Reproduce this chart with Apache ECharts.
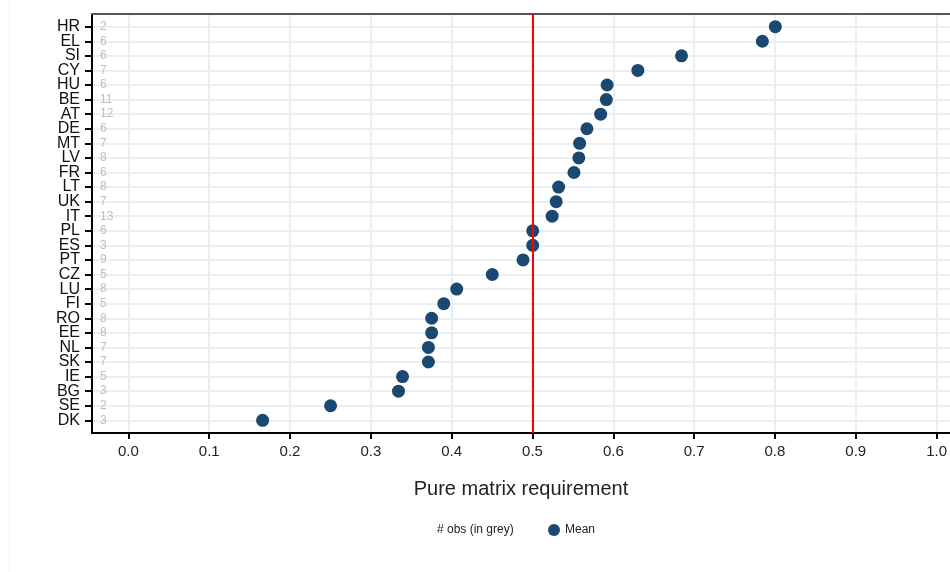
<!DOCTYPE html>
<html>
<head>
<meta charset="utf-8">
<script src="https://cdn.jsdelivr.net/npm/echarts@6/dist/echarts.min.js"></script>
<style>
	html, body { margin: 0; padding: 0; background: #fff; }
	#chart { width: 950px; height: 572px; }
</style>
</head>
<body>
<div id="chart"></div>
<script>
var countries = ['HR', 'EL', 'SI', 'CY', 'HU', 'BE', 'AT', 'DE', 'MT', 'LV', 'FR', 'LT', 'UK', 'IT',
	'PL', 'ES', 'PT', 'CZ', 'LU', 'FI', 'RO', 'EE', 'NL', 'SK', 'IE', 'BG', 'SE', 'DK'];
var obs = [2, 6, 6, 7, 6, 11, 12, 6, 7, 8, 6, 8, 7, 13, 6, 3, 9, 5, 8, 5, 8, 8, 7, 7, 5, 3, 2, 3];
var means = [0.800, 0.784, 0.684, 0.630, 0.592, 0.591, 0.584, 0.567, 0.558, 0.557, 0.551, 0.532, 0.529, 0.524,
	0.500, 0.500, 0.488, 0.450, 0.406, 0.390, 0.375, 0.375, 0.371, 0.371, 0.339, 0.334, 0.250, 0.166];
var xTicks = [0, 0.1, 0.2, 0.3, 0.4, 0.5, 0.6, 0.7, 0.8, 0.9, 1.0];
var threshold = 0.5;

var font = 'Liberation Sans, Arial, sans-serif';
var dotColor = '#1b4871';
var gridColor = '#e9eff2';
var xMin = -0.045, xMax = 1.016;

var myChart = echarts.init(document.getElementById('chart'));

// grid 0: frame, grid 1: rows + dots, grid 2: x scale 0..1 (ticks, labels, gridlines, threshold)
var option = {
	animation : false,
	textStyle : { fontFamily : font },
	grid : [
		{ left : 92, top : 14, right : 0, height : 419 },
		{ left : 92, top : 26.7, right : 0, height : 393.6 },
		{ left : 128.4, top : 14, width : 808.7, height : 419 }
	],
	graphic : [
		{
			type : 'line',
			shape : { x1 : 9.5, y1 : 0, x2 : 9.5, y2 : 572 },
			style : { stroke : '#eef2f3', lineWidth : 1 }
		},
		{
			type : 'text',
			left : 437,
			top : 524,
			style : { text : '# obs (in grey)', fill : '#222', font : '12px ' + font }
		}
	],
	legend : {
		left : 543,
		top : 519,
		itemWidth : 12,
		itemHeight : 12,
		itemGap : 6,
		textStyle : { fontSize : 12, color : '#222', fontFamily : font, padding : [0, 0, 4, 0] },
		data : [{ name : 'Mean', icon : 'circle' }]
	},
	xAxis : [
		{
			gridIndex : 0,
			type : 'value',
			min : xMin,
			max : xMax,
			position : 'bottom',
			name : 'Pure matrix requirement',
			nameLocation : 'middle',
			nameGap : 46,
			nameTextStyle : { fontSize : 20, color : '#222', fontFamily : font },
			axisLine : { show : true, onZero : false, lineStyle : { color : '#000', width : 2 } },
			axisTick : { show : false },
			axisLabel : { show : false },
			splitLine : { show : false }
		},
		{
			gridIndex : 0,
			type : 'value',
			min : xMin,
			max : xMax,
			position : 'top',
			axisLine : { show : true, onZero : false, lineStyle : { color : '#555', width : 2 } },
			axisTick : { show : false },
			axisLabel : { show : false },
			splitLine : { show : false }
		},
		{
			gridIndex : 1,
			type : 'value',
			min : xMin,
			max : xMax,
			show : false
		},
		{
			gridIndex : 2,
			type : 'category',
			data : xTicks.map(function(v){ return v.toFixed(1); }),
			boundaryGap : false,
			position : 'bottom',
			axisLine : { show : false, onZero : false },
			axisTick : { show : true, interval : 0, length : 6, lineStyle : { color : '#000', width : 2 } },
			axisLabel : { interval : 0, margin : 11, fontSize : 15, color : '#222' },
			splitLine : { show : true, interval : 0, lineStyle : { color : gridColor, width : 2 } }
		},
		{
			gridIndex : 2,
			type : 'value',
			min : 0,
			max : 1,
			position : 'top',
			show : false
		}
	],
	yAxis : [
		{
			gridIndex : 0,
			type : 'value',
			min : 0,
			max : 1,
			axisLine : { show : true, onZero : false, lineStyle : { color : '#000', width : 2 } },
			axisTick : { show : false },
			axisLabel : { show : false },
			splitLine : { show : false }
		},
		{
			gridIndex : 1,
			type : 'category',
			inverse : true,
			boundaryGap : false,
			data : countries,
			axisLine : { show : false, onZero : false },
			axisTick : { show : true, length : 7, lineStyle : { color : '#000', width : 2 } },
			axisLabel : { margin : 12, fontSize : 16, color : '#111', interval : 0 },
			splitLine : { show : true, lineStyle : { color : gridColor, width : 2 } }
		},
		{
			gridIndex : 1,
			type : 'category',
			position : 'left',
			inverse : true,
			boundaryGap : false,
			data : countries,
			axisLine : { show : false, onZero : false },
			axisTick : { show : false },
			splitLine : { show : false },
			axisLabel : {
				inside : true,
				margin : 8,
				interval : 0,
				fontSize : 12,
				color : '#bdbdbd',
				formatter : function(v){ return String(obs[countries.indexOf(v)]); }
			}
		},
		{
			gridIndex : 2,
			type : 'value',
			min : 0,
			max : 1,
			show : false
		}
	],
	series : [
		{
			name : 'threshold',
			type : 'line',
			xAxisIndex : 4,
			yAxisIndex : 3,
			data : [],
			silent : true,
			markLine : {
				silent : true,
				symbol : 'none',
				label : { show : false },
				lineStyle : { color : '#ff0000', width : 2, type : 'solid' },
				data : [{ xAxis : threshold }]
			}
		},
		{
			name : 'Mean',
			type : 'scatter',
			xAxisIndex : 2,
			yAxisIndex : 1,
			symbol : 'circle',
			symbolSize : 13,
			itemStyle : { color : dotColor, opacity : 1 },
			data : (function(){
				var arr = [];
				countries.map(function(c, i){
					arr.push([means[i], c]);
				});
				return arr;
			})()
		}
	]
};

myChart.setOption(option);
</script>
</body>
</html>
